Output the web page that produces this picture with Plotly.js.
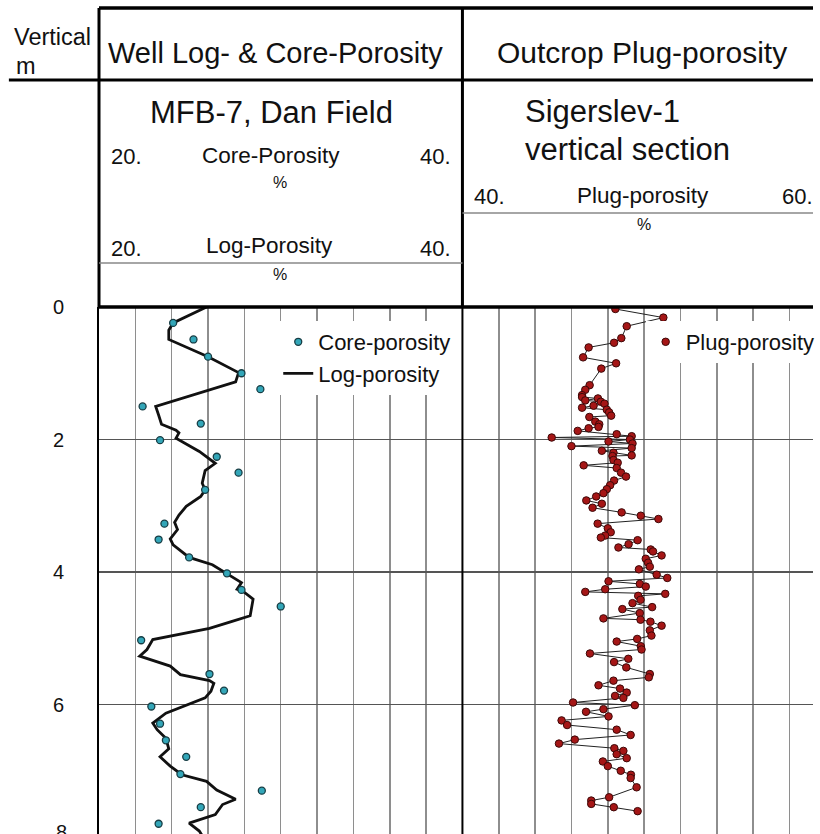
<!DOCTYPE html>
<html>
<head>
<meta charset="utf-8">
<script src="https://cdn.plot.ly/plotly-3.0.1.min.js"></script>
<style>
html,body{margin:0;padding:0;background:#fff;overflow:hidden;}
#chart{width:820px;height:834px;}
</style>
</head>
<body>
<div id="chart"></div>
<script>
// ---------------- DATA ----------------
// Well MFB-7, Dan Field: core porosity samples (depth m, porosity %)
const coreDepth = [0.24,0.49,0.75,1.00,1.24,1.50,1.76,2.01,2.26,2.50,2.76,3.27,3.51,3.78,4.02,4.27,4.52,5.03,5.54,5.79,6.03,6.29,6.54,6.79,7.05,7.30,7.55,7.80];
const corePorosity = [22.6,24.0,25.0,27.3,28.6,20.5,24.5,21.7,25.6,27.1,24.8,22.0,21.6,23.7,26.3,27.3,30.0,20.4,25.1,26.1,21.1,21.7,22.1,23.5,23.1,28.7,24.5,21.6];

// Well log porosity curve
const logDepth = [0.00,0.24,0.35,0.49,0.75,0.88,0.99,1.13,1.50,1.63,1.77,1.86,1.90,1.98,2.03,2.18,2.36,2.47,2.66,2.76,2.86,3.01,3.14,3.25,3.36,3.50,3.59,3.78,3.89,4.02,4.16,4.26,4.29,4.41,4.66,4.75,4.85,5.02,5.17,5.27,5.42,5.55,5.64,5.68,5.80,5.90,6.03,6.13,6.28,6.38,6.51,6.67,6.79,6.93,7.06,7.16,7.29,7.43,7.51,7.66,7.79,7.91,8.05];
const logPorosity = [24.9,22.6,22.3,22.3,25.0,26.2,27.1,26.9,21.4,21.6,21.8,22.8,23.0,22.8,23.2,24.4,25.5,24.8,24.6,24.8,24.5,23.5,23.0,22.7,22.9,22.4,22.6,23.7,25.3,26.3,27.3,27.0,27.4,28.1,27.9,26.6,25.1,21.2,20.8,20.3,22.4,23.1,25.1,25.4,25.2,24.8,23.2,22.1,21.2,21.5,22.1,22.3,21.7,22.4,23.2,24.9,25.6,26.9,26.0,25.5,23.7,24.4,24.8];

// Sigerslev-1 outcrop plug porosity
const plugDepth = [0.03,0.16,0.29,0.47,0.54,0.61,0.76,0.85,0.93,1.18,1.25,1.33,1.36,1.38,1.41,1.43,1.46,1.49,1.52,1.55,1.59,1.64,1.66,1.73,1.77,1.81,1.83,1.87,1.92,1.95,1.97,2.00,2.03,2.06,2.10,2.13,2.17,2.20,2.24,2.25,2.31,2.35,2.39,2.43,2.50,2.56,2.62,2.69,2.75,2.81,2.86,2.92,2.97,3.03,3.10,3.15,3.20,3.27,3.34,3.40,3.45,3.48,3.52,3.58,3.63,3.66,3.69,3.75,3.80,3.86,3.92,3.96,4.04,4.09,4.14,4.18,4.22,4.26,4.30,4.33,4.36,4.42,4.47,4.53,4.56,4.62,4.70,4.72,4.75,4.81,4.88,4.96,5.01,5.05,5.12,5.17,5.23,5.31,5.36,5.44,5.54,5.59,5.64,5.71,5.76,5.82,5.87,5.90,5.97,6.01,6.07,6.11,6.18,6.24,6.31,6.38,6.46,6.53,6.59,6.66,6.70,6.75,6.81,6.86,6.93,7.00,7.06,7.11,7.25,7.40,7.45,7.50,7.55,7.61];
const plugPorosity = [48.02,51.32,48.80,48.43,47.93,46.18,45.80,48.07,47.05,46.25,45.95,45.73,45.73,46.82,45.95,47.02,47.27,46.52,45.73,47.43,47.59,47.73,46.23,46.64,46.91,46.86,46.18,45.43,48.11,49.14,43.64,49.02,47.55,49.20,45.00,49.14,47.09,47.89,49.14,47.82,47.89,48.18,45.84,48.11,48.41,48.75,47.93,47.66,47.43,47.20,46.70,46.02,47.09,46.45,48.45,49.77,50.98,46.80,47.50,47.70,47.32,47.02,49.55,48.93,48.23,50.45,50.61,51.20,50.11,50.27,50.39,49.64,50.86,51.59,47.55,49.70,50.11,47.32,45.95,51.45,49.59,49.75,49.20,50.55,48.50,49.70,47.20,49.75,50.43,51.20,50.39,50.50,49.52,48.11,49.77,49.82,46.27,48.91,47.93,48.77,50.39,50.32,47.89,46.86,48.34,48.80,48.00,48.57,45.11,49.36,47.20,46.00,47.55,44.32,44.70,48.11,49.07,45.23,44.14,47.95,48.57,48.11,48.80,47.16,47.50,48.39,49.09,49.07,49.48,47.59,46.36,46.36,47.91,49.55];

// Header scale markers and depth tick labels
const coreScaleTicks = [20,22.5,25,27.5,30,32.5,35,37.5,40];
const plugScaleTick = [50];
const depthTicks = [0,2,4,6];
const depthTickText = ['0','2','4','6'];

// ---------------- LAYOUT GEOMETRY ----------------
const W = 820, H = 834, L = 99, T = 307;
const PW = W - L, PH = H - T;
const PXM = 66.25;                 // pixels per metre
const yMax = PH / PXM;
const X = px => (px - L) / PW;
const Y = py => (H - py) / PH;
const D = py => (py - T) / PXM;    // header row level in depth units
const splitPx = 466;

const FONT = 'Liberation Sans, Arial, Helvetica, sans-serif';
const TXT = '#111';

function ann(text, px, py, size, anchor){
  return {text:text, xref:'paper', yref:'paper', x:X(px), y:Y(py),
          xanchor:anchor, yanchor:'middle', showarrow:false,
          font:{family:FONT, size:size, color:TXT}};
}
function hline(px0, px1, py, w, c){
  return {type:'line', xref:'paper', yref:'paper', x0:X(px0), x1:X(px1), y0:Y(py), y1:Y(py),
          line:{color:c||'#000', width:w}};
}
function vline(px, py0, py1, w, c){
  return {type:'line', xref:'paper', yref:'paper', x0:X(px), x1:X(px), y0:Y(py0), y1:Y(py1),
          line:{color:c||'#000', width:w}};
}

const traces = [
  {x:logPorosity, y:logDepth, type:'scatter', mode:'lines', name:'Log-porosity',
   line:{color:'#111', width:2.8}, xaxis:'x', yaxis:'y', legend:'legend', legendrank:2},
  {x:corePorosity, y:coreDepth, type:'scatter', mode:'markers', name:'Core-porosity',
   marker:{size:7, color:'#33a6b8', line:{color:'#173d44', width:1.3}},
   xaxis:'x', yaxis:'y', legend:'legend', legendrank:1},
  {x:plugPorosity, y:plugDepth, type:'scatter', mode:'lines', name:'plug line',
   line:{color:'#222', width:1}, xaxis:'x2', yaxis:'y', showlegend:false},
  {x:plugPorosity, y:plugDepth, type:'scatter', mode:'markers', name:'Plug-porosity',
   marker:{size:7.5, color:'#a51616', line:{color:'#3d0808', width:1}},
   xaxis:'x2', yaxis:'y', legend:'legend2'},
  // header scale markers
  {x:coreScaleTicks, y:coreScaleTicks.map(()=>D(172)), type:'scatter', mode:'markers',
   marker:{size:6, color:'#33a6b8', line:{color:'#173d44', width:1.2}},
   xaxis:'x', yaxis:'y', showlegend:false, cliponaxis:false, hoverinfo:'skip'},
  {x:plugScaleTick, y:[D(213)], type:'scatter', mode:'markers',
   marker:{size:6, color:'#a51616', line:{color:'#3d0808', width:1}},
   xaxis:'x2', yaxis:'y', showlegend:false, cliponaxis:false, hoverinfo:'skip'}
];

const split = X(splitPx);
const layout = {
  width:W, height:H,
  margin:{l:L, r:0, t:T, b:0, pad:0},
  paper_bgcolor:'#fff', plot_bgcolor:'#fff',
  font:{family:FONT, color:TXT},
  showlegend:true,
  xaxis:{domain:[0, split], range:[17.5, 42.5], tick0:17.5, dtick:2.5,
         showgrid:true, gridcolor:'#8e8e8e', gridwidth:1.5, zeroline:false,
         showticklabels:false, ticks:'', anchor:'y', fixedrange:true},
  xaxis2:{domain:[split, 1], range:[37.5, 37.5 + (W - splitPx)/(PW*split/25)], tick0:37.5, dtick:2.5,
          showgrid:true, gridcolor:'#8e8e8e', gridwidth:1.5, zeroline:false,
          showticklabels:false, ticks:'', anchor:'y', fixedrange:true},
  yaxis:{domain:[0,1], range:[yMax, 0], autorange:false, tickvals:depthTicks, ticktext:depthTickText,
         showgrid:true, gridcolor:'#555', gridwidth:1.5, zeroline:false,
         showline:true, linecolor:'#000', linewidth:2, mirror:false,
         ticks:'', ticklabelstandoff:29, tickfont:{family:FONT, size:20, color:TXT}, fixedrange:true},
  legend:{x:X(280), y:Y(321), xanchor:'left', yanchor:'top', bgcolor:'#fff', borderwidth:0,
          font:{family:FONT, size:22, color:TXT}, tracegroupgap:0},
  legend2:{x:X(651), y:Y(321), xanchor:'left', yanchor:'top', bgcolor:'#fff', borderwidth:0,
           font:{family:FONT, size:22, color:TXT}},
  shapes:[
    hline(L, W, 8, 3.5),
    vline(L, 8, T, 3),
    vline(splitPx, 8, T, 3),
    hline(8, W, 80, 3),
    hline(L, W, T, 3.5),
    hline(L, splitPx, 263, 1.5, '#888'),
    hline(splitPx, W, 213, 1.5, '#888'),
    vline(splitPx, T, H, 2)
  ],
  annotations:[
    ann('Vertical', 11, 37, 23.5, 'left'),
    ann('m', 13, 66, 23.5, 'left'),
    ann('Well Log- &amp; Core-Porosity', 277.5, 52.5, 29, 'center'),
    ann('Outcrop Plug-porosity', 647.5, 52, 30, 'center'),
    ann('MFB-7, Dan Field', 273, 113, 31, 'center'),
    ann('20.', 109, 157, 22, 'left'),
    ann('Core-Porosity', 272.5, 155.5, 22.5, 'center'),
    ann('40.', 456, 157, 22, 'right'),
    ann('%', 282, 183, 16, 'center'),
    ann('20.', 109, 248.5, 22, 'left'),
    ann('Log-Porosity', 271.5, 245.5, 22.5, 'center'),
    ann('40.', 456, 248.5, 22, 'right'),
    ann('%', 282, 275, 16, 'center'),
    ann('Sigerslev-1', 527, 111, 31, 'left'),
    ann('vertical section', 527, 149, 31, 'left'),
    ann('40.', 476, 196.5, 22, 'left'),
    ann('Plug-porosity', 648, 195, 22.5, 'center'),
    ann('60.', 787, 196.5, 22, 'left'),
    ann('%', 649, 224, 16, 'center'),
    ann('8', 69, 832, 20, 'right')
  ]
};

Plotly.newPlot('chart', traces, layout, {displayModeBar:false, staticPlot:true});
</script>
</body>
</html>
